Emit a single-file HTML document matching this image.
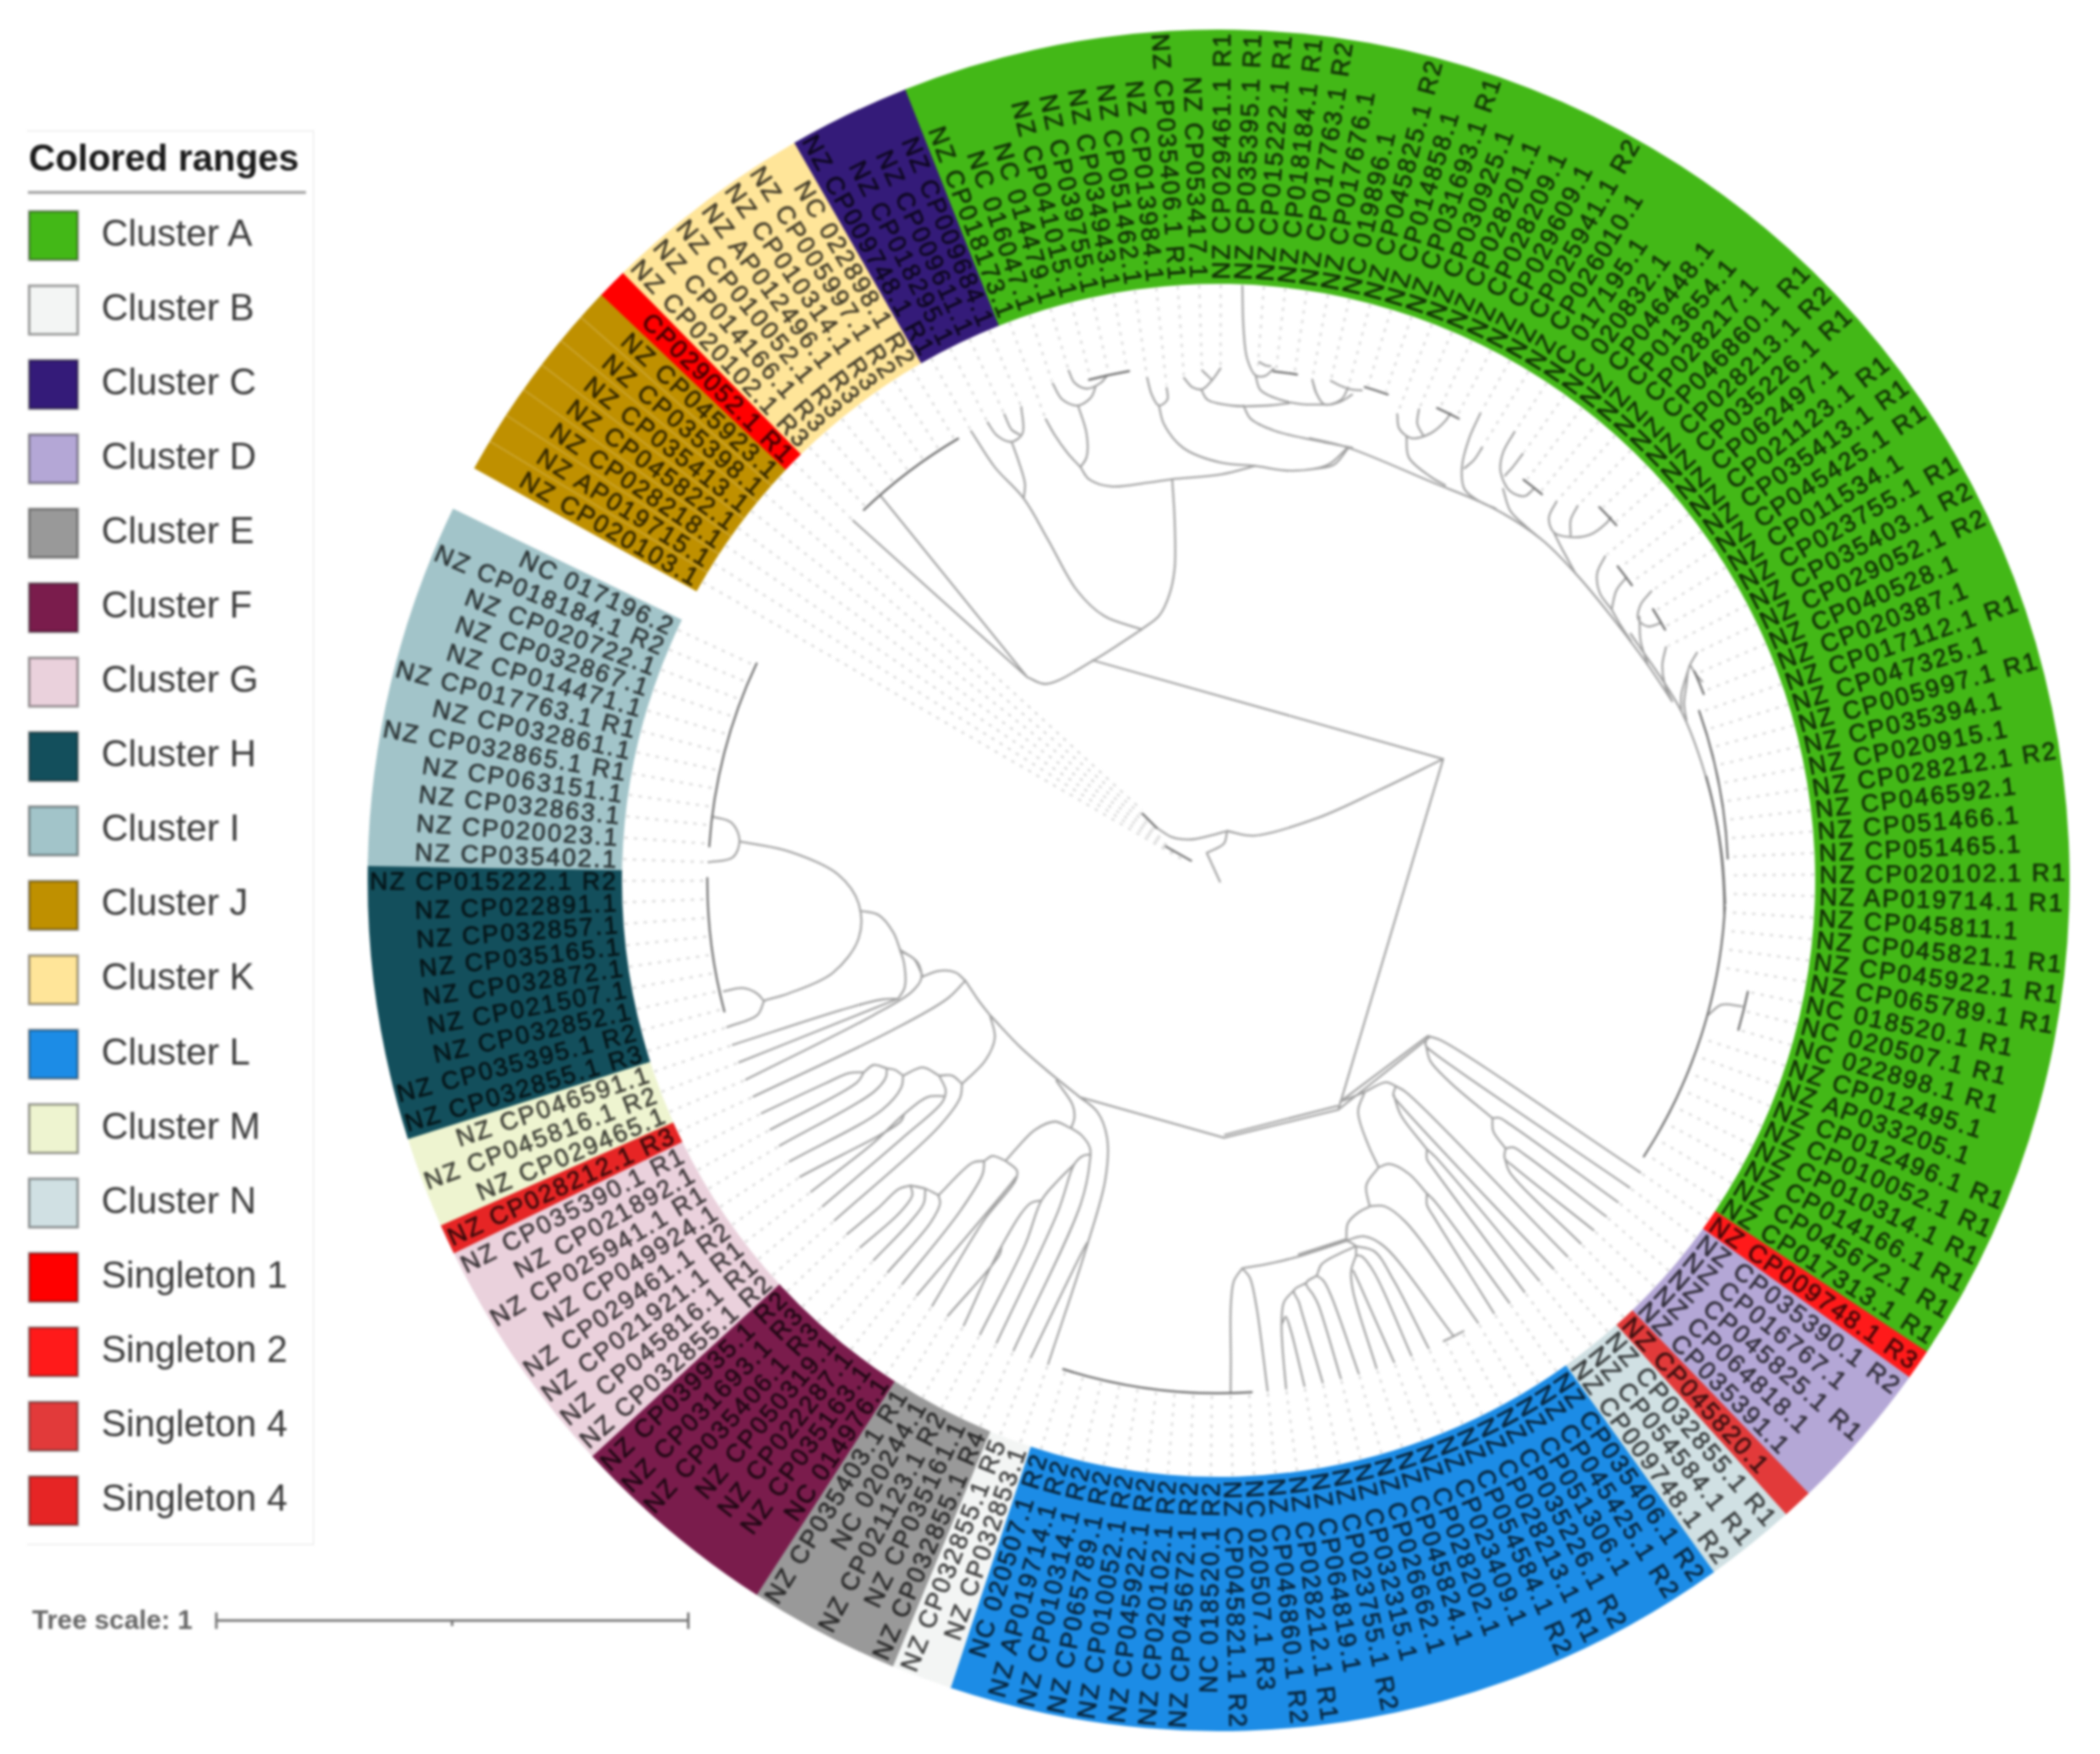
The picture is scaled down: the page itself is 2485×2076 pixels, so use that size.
<!DOCTYPE html>
<html lang="en"><head><meta charset="utf-8"><title>Colored ranges - circular tree</title>
<style>html,body{margin:0;padding:0;background:#fff}body{width:2485px;height:2076px;overflow:hidden}</style>
</head><body>
<svg width="2485" height="2076" viewBox="0 0 2485 2076" style="display:block;filter:blur(1.4px)">
<g id="ranges" shape-rendering="geometricPrecision">
<path d="M824.3 700.0L561.0 554.3A1007.0 1007.0 0 0 1 712.2 348.1L930.4 555.5A706.0 706.0 0 0 0 824.3 700.0Z" fill="#bf9000"/>
<path d="M929.8 556.1L711.5 348.9A1007.0 1007.0 0 0 1 737.8 322.2L948.3 537.3A706.0 706.0 0 0 0 929.8 556.1Z" fill="#ff0000"/>
<path d="M947.8 537.8L737.1 322.9A1007.0 1007.0 0 0 1 940.9 168.6L1090.7 429.6A706.0 706.0 0 0 0 947.8 537.8Z" fill="#ffe599"/>
<path d="M1090.0 430.0L939.9 169.1A1007.0 1007.0 0 0 1 1072.2 105.4L1182.7 385.3A706.0 706.0 0 0 0 1090.0 430.0Z" fill="#341b79"/>
<path d="M1182.0 385.6L1071.2 105.7A1007.0 1007.0 0 0 1 2279.7 1600.8L2029.3 1433.8A706.0 706.0 0 0 0 1182.0 385.6Z" fill="#43b817"/>
<path d="M2029.7 1433.2L2280.3 1599.9A1007.0 1007.0 0 0 1 2258.9 1630.8L2014.8 1454.8A706.0 706.0 0 0 0 2029.7 1433.2Z" fill="#ff1a1a"/>
<path d="M2015.2 1454.2L2259.6 1629.9A1007.0 1007.0 0 0 1 2139.6 1768.3L1931.1 1551.2A706.0 706.0 0 0 0 2015.2 1454.2Z" fill="#b4a7d6"/>
<path d="M1931.6 1550.7L2140.3 1767.5A1007.0 1007.0 0 0 1 2112.8 1793.0L1912.3 1568.6A706.0 706.0 0 0 0 1931.6 1550.7Z" fill="#e23a3a"/>
<path d="M1912.8 1568.1L2113.6 1792.3A1007.0 1007.0 0 0 1 2027.4 1861.4L1852.4 1616.4A706.0 706.0 0 0 0 1912.8 1568.1Z" fill="#d0e0e3"/>
<path d="M1853.0 1616.0L2028.3 1860.7A1007.0 1007.0 0 0 1 1124.1 1997.5L1219.1 1711.9A706.0 706.0 0 0 0 1853.0 1616.0Z" fill="#1c8ce6"/>
<path d="M1219.8 1712.1L1125.1 1997.8A1007.0 1007.0 0 0 1 1055.7 1972.0L1171.2 1694.0A706.0 706.0 0 0 0 1219.8 1712.1Z" fill="#f3f5f4"/>
<path d="M1171.9 1694.3L1056.7 1972.4A1007.0 1007.0 0 0 1 894.6 1887.2L1058.2 1634.6A706.0 706.0 0 0 0 1171.9 1694.3Z" fill="#999999"/>
<path d="M1058.8 1635.0L895.5 1887.8A1007.0 1007.0 0 0 1 700.1 1722.9L921.9 1519.4A706.0 706.0 0 0 0 1058.8 1635.0Z" fill="#7a1c4c"/>
<path d="M922.4 1519.9L700.8 1723.7A1007.0 1007.0 0 0 1 536.5 1482.6L807.2 1350.9A706.0 706.0 0 0 0 922.4 1519.9Z" fill="#ead1dc"/>
<path d="M807.5 1351.5L537.0 1483.5A1007.0 1007.0 0 0 1 521.1 1449.5L796.4 1327.7A706.0 706.0 0 0 0 807.5 1351.5Z" fill="#e62525"/>
<path d="M796.7 1328.4L521.6 1450.5A1007.0 1007.0 0 0 1 482.4 1347.2L769.2 1256.0A706.0 706.0 0 0 0 796.7 1328.4Z" fill="#eef4d0"/>
<path d="M769.4 1256.7L482.7 1348.2A1007.0 1007.0 0 0 1 435.2 1023.9L736.1 1029.3A706.0 706.0 0 0 0 769.4 1256.7Z" fill="#134f5c"/>
<path d="M736.1 1030.0L435.1 1025.0A1007.0 1007.0 0 0 1 536.1 602.1L806.9 733.6A706.0 706.0 0 0 0 736.1 1030.0Z" fill="#a2c4c9"/>
<path d="M837.3 677.6L579.5 522.2" stroke="#fff" stroke-opacity="0.22" stroke-width="1.6"/>
<path d="M850.9 655.9L598.9 491.3" stroke="#fff" stroke-opacity="0.22" stroke-width="1.6"/>
<path d="M865.3 634.8L619.4 461.2" stroke="#fff" stroke-opacity="0.22" stroke-width="1.6"/>
<path d="M880.4 614.2L641.0 431.8" stroke="#fff" stroke-opacity="0.22" stroke-width="1.6"/>
<path d="M896.3 594.1L663.6 403.2" stroke="#fff" stroke-opacity="0.22" stroke-width="1.6"/>
<path d="M912.8 574.7L687.2 375.4" stroke="#fff" stroke-opacity="0.22" stroke-width="1.6"/>
</g>
<g id="leaders" stroke="#dadada" stroke-width="2.6" stroke-dasharray="4 7.4" fill="none">
<path d="M831.7 689.1L1403.0 1019.5"/>
<path d="M844.9 667.2L1392.9 1011.2"/>
<path d="M858.8 645.9L1383.3 1002.1"/>
<path d="M873.5 625.0L1374.3 992.3"/>
<path d="M889.0 604.7L1365.9 981.8"/>
<path d="M905.2 585.0L1358.2 970.7"/>
<path d="M922.1 565.8L1351.3 958.9"/>
<path d="M939.7 547.3L1007.4 614.0"/>
<path d="M957.9 529.4L1023.2 598.5"/>
<path d="M976.8 512.3L1039.5 583.6"/>
<path d="M996.3 495.8L1056.4 569.4"/>
<path d="M1016.4 480.0L1073.7 555.7"/>
<path d="M1037.0 464.9L1091.6 542.7"/>
<path d="M1058.2 450.7L1109.9 530.3"/>
<path d="M1079.8 437.1L1128.6 518.6"/>
<path d="M1102.0 424.4L1147.8 507.6"/>
<path d="M1124.5 412.5L1167.3 497.3"/>
<path d="M1147.5 401.4L1187.2 487.8"/>
<path d="M1170.9 391.2L1207.5 478.9"/>
<path d="M1194.7 381.8L1236.4 493.2"/>
<path d="M1218.7 373.3L1244.7 451.1"/>
<path d="M1243.1 365.6L1263.7 435.7"/>
<path d="M1267.7 358.9L1290.0 446.1"/>
<path d="M1292.6 353.0L1311.6 441.0"/>
<path d="M1317.6 348.1L1333.5 436.6"/>
<path d="M1342.8 344.0L1357.0 444.0"/>
<path d="M1368.2 340.9L1380.3 456.2"/>
<path d="M1393.6 338.7L1400.9 444.4"/>
<path d="M1419.1 337.4L1422.3 435.3"/>
<path d="M1444.6 337.0L1444.3 433.0"/>
<path d="M1495.6 339.0L1488.5 432.8"/>
<path d="M1521.0 341.4L1510.3 436.8"/>
<path d="M1546.4 344.8L1532.1 439.7"/>
<path d="M1571.5 349.0L1553.3 446.3"/>
<path d="M1596.5 354.1L1575.5 447.8"/>
<path d="M1621.3 360.2L1596.2 455.9"/>
<path d="M1645.9 367.1L1619.0 456.2"/>
<path d="M1670.2 375.0L1640.1 463.0"/>
<path d="M1694.2 383.7L1654.5 487.3"/>
<path d="M1717.9 393.2L1680.3 481.6"/>
<path d="M1741.2 403.6L1704.7 481.5"/>
<path d="M1764.1 414.9L1724.8 491.4"/>
<path d="M1786.6 427.0L1753.4 486.3"/>
<path d="M1808.7 439.8L1755.6 527.0"/>
<path d="M1830.2 453.5L1793.9 508.6"/>
<path d="M1851.3 468.0L1803.7 534.7"/>
<path d="M1871.8 483.2L1807.2 567.2"/>
<path d="M1891.7 499.1L1824.1 580.7"/>
<path d="M1911.1 515.7L1843.9 591.1"/>
<path d="M1929.8 533.1L1869.0 596.6"/>
<path d="M1948.0 551.1L1897.0 600.5"/>
<path d="M1965.4 569.7L1912.7 617.3"/>
<path d="M1982.2 589.0L1901.7 656.4"/>
<path d="M1998.2 608.8L1918.5 670.9"/>
<path d="M2013.5 629.2L1931.7 688.4"/>
<path d="M2028.1 650.2L1956.6 698.0"/>
<path d="M2041.9 671.7L1960.2 722.1"/>
<path d="M2054.9 693.6L1971.5 741.1"/>
<path d="M2067.1 716.1L1974.0 764.6"/>
<path d="M2078.5 738.9L2010.8 771.2"/>
<path d="M2089.1 762.2L2009.2 796.7"/>
<path d="M2098.8 785.8L2017.7 817.4"/>
<path d="M2107.6 809.7L2014.2 842.3"/>
<path d="M2115.6 834.0L2021.0 863.2"/>
<path d="M2122.7 858.5L2027.1 884.3"/>
<path d="M2128.9 883.3L2032.4 905.6"/>
<path d="M2134.2 908.2L2037.0 927.0"/>
<path d="M2138.6 933.4L2040.8 948.6"/>
<path d="M2142.1 958.7L2043.8 970.4"/>
<path d="M2144.6 984.1L2046.0 992.2"/>
<path d="M2146.3 1009.6L2047.4 1014.1"/>
<path d="M2147.0 1035.1L2045.0 1036.1"/>
<path d="M2146.8 1060.6L2044.8 1057.9"/>
<path d="M2145.6 1086.1L2043.8 1079.7"/>
<path d="M2143.6 1111.6L2042.1 1101.5"/>
<path d="M2140.6 1136.9L2039.5 1123.2"/>
<path d="M2136.7 1162.1L2036.2 1144.8"/>
<path d="M2131.9 1187.2L2071.2 1174.5"/>
<path d="M2126.2 1212.1L2066.0 1197.1"/>
<path d="M2119.6 1236.8L2060.0 1219.6"/>
<path d="M2112.1 1261.2L2015.1 1229.5"/>
<path d="M2103.7 1285.3L2008.0 1250.1"/>
<path d="M2094.4 1309.1L2000.1 1270.4"/>
<path d="M2084.3 1332.5L1991.4 1290.5"/>
<path d="M2073.4 1355.6L1982.1 1310.2"/>
<path d="M2061.6 1378.3L1972.0 1329.6"/>
<path d="M2049.1 1400.5L1961.2 1348.6"/>
<path d="M2035.7 1422.2L1949.8 1367.2"/>
<path d="M2021.5 1443.5L1943.4 1389.4"/>
<path d="M2006.6 1464.2L1930.5 1407.3"/>
<path d="M1991.0 1484.4L1917.0 1424.7"/>
<path d="M1974.6 1503.9L1902.8 1441.7"/>
<path d="M1957.5 1522.9L1888.0 1458.1"/>
<path d="M1939.7 1541.3L1872.7 1474.0"/>
<path d="M1921.3 1559.0L1856.8 1489.3"/>
<path d="M1902.3 1576.0L1840.3 1504.0"/>
<path d="M1882.7 1592.3L1823.3 1518.1"/>
<path d="M1862.5 1607.9L1805.8 1531.6"/>
<path d="M1841.7 1622.7L1787.8 1544.5"/>
<path d="M1820.4 1636.8L1769.4 1556.7"/>
<path d="M1798.6 1650.1L1750.6 1568.2"/>
<path d="M1776.4 1662.7L1731.3 1579.0"/>
<path d="M1753.7 1674.4L1711.7 1589.2"/>
<path d="M1730.6 1685.2L1691.7 1598.6"/>
<path d="M1707.1 1695.3L1671.4 1607.2"/>
<path d="M1683.3 1704.4L1650.8 1615.2"/>
<path d="M1659.1 1712.7L1629.9 1622.3"/>
<path d="M1634.7 1720.2L1608.7 1628.8"/>
<path d="M1610.0 1726.7L1587.4 1634.4"/>
<path d="M1585.1 1732.3L1565.8 1639.3"/>
<path d="M1560.0 1737.1L1544.1 1643.4"/>
<path d="M1534.8 1740.9L1522.3 1646.7"/>
<path d="M1509.4 1743.8L1500.3 1649.2"/>
<path d="M1484.0 1745.7L1478.3 1650.9"/>
<path d="M1458.5 1746.8L1456.2 1651.8"/>
<path d="M1432.9 1746.9L1434.1 1651.9"/>
<path d="M1407.4 1746.2L1412.1 1651.3"/>
<path d="M1381.9 1744.4L1390.0 1649.8"/>
<path d="M1356.5 1741.8L1368.1 1647.5"/>
<path d="M1331.3 1738.2L1346.2 1644.4"/>
<path d="M1306.1 1733.8L1324.4 1640.6"/>
<path d="M1281.2 1728.4L1302.8 1635.9"/>
<path d="M1256.4 1722.1L1281.4 1630.5"/>
<path d="M1231.9 1715.0L1260.2 1624.3"/>
<path d="M1207.7 1706.9L1239.3 1617.3"/>
<path d="M1183.8 1698.0L1218.6 1609.6"/>
<path d="M1160.2 1688.2L1198.2 1601.1"/>
<path d="M1137.0 1677.6L1178.1 1591.9"/>
<path d="M1114.2 1666.1L1158.3 1582.0"/>
<path d="M1091.8 1653.9L1139.0 1571.4"/>
<path d="M1069.8 1640.8L1120.0 1560.1"/>
<path d="M1048.4 1626.9L1101.4 1548.1"/>
<path d="M1027.5 1612.3L1083.3 1535.4"/>
<path d="M1007.1 1596.9L1065.7 1522.1"/>
<path d="M987.3 1580.8L1048.6 1508.2"/>
<path d="M968.1 1564.0L1032.0 1493.6"/>
<path d="M949.5 1546.5L1015.9 1478.5"/>
<path d="M931.6 1528.3L1000.3 1462.8"/>
<path d="M914.3 1509.5L985.4 1446.5"/>
<path d="M897.7 1490.1L971.1 1429.7"/>
<path d="M881.8 1470.1L957.3 1412.4"/>
<path d="M866.7 1449.5L944.2 1394.6"/>
<path d="M852.3 1428.4L931.8 1376.3"/>
<path d="M838.7 1406.8L920.0 1357.7"/>
<path d="M825.9 1384.7L908.9 1338.5"/>
<path d="M813.9 1362.2L898.5 1319.1"/>
<path d="M802.7 1339.2L888.9 1299.2"/>
<path d="M792.4 1315.9L879.9 1279.0"/>
<path d="M782.9 1292.2L871.7 1258.5"/>
<path d="M774.3 1268.2L864.2 1237.7"/>
<path d="M766.5 1243.9L857.5 1216.7"/>
<path d="M759.6 1219.3L853.5 1194.9"/>
<path d="M753.7 1194.4L848.4 1173.5"/>
<path d="M748.6 1169.4L844.0 1151.9"/>
<path d="M744.5 1144.2L840.4 1130.2"/>
<path d="M741.2 1118.9L837.6 1108.3"/>
<path d="M738.9 1093.5L835.6 1086.4"/>
<path d="M737.5 1068.0L834.4 1064.4"/>
<path d="M737.0 1042.5L834.0 1042.4"/>
<path d="M737.4 1016.9L835.4 1020.4"/>
<path d="M738.8 991.4L836.6 998.5"/>
<path d="M741.1 966.0L838.5 976.6"/>
<path d="M744.3 940.7L841.3 954.8"/>
<path d="M748.4 915.5L844.9 933.1"/>
<path d="M753.5 890.5L849.2 911.5"/>
<path d="M759.4 865.6L854.3 890.1"/>
<path d="M766.3 841.0L860.2 869.0"/>
<path d="M774.0 816.7L866.8 848.0"/>
<path d="M782.6 792.7L874.2 827.3"/>
<path d="M792.0 768.9L882.4 806.9"/>
<path d="M802.3 745.6L891.3 786.8"/>
</g>
<g id="tree" fill="none" stroke-linecap="round" stroke-linejoin="round">
<path stroke="#a0a0a0" stroke-width="2.3" d="M1292.7 781.5L1707.8 898.3M1707.8 898.3L1583.7 1313.4M1583.7 1313.4L1448.4 1346.7M1582.9 1308.9L1449.5 1343.0M1448.4 1346.7L1277.9 1298.6M1707.8 898.3C1682.5 910.6 1657.1 923.5 1631.8 935.3C1607.1 946.9 1582.8 959.7 1557.7 968.7C1533.3 977.5 1503.2 988.1 1483.6 989.1C1470.9 989.7 1462.6 985.4 1452.1 983.5M1452.1 983.5C1450.8 988.4 1451.5 994.3 1448.4 998.3C1444.5 1003.4 1434.8 1005.7 1428.0 1009.5M1428.0 1009.5L1443.6 1043.6M1452.1 983.5C1445.3 985.4 1438.7 987.4 1431.7 989.1C1424.5 990.8 1416.9 993.2 1409.5 993.5C1402.1 993.8 1394.1 993.3 1387.2 990.9C1380.5 988.6 1374.9 983.5 1368.7 979.8M1583.7 1313.4L1691.1 1228.1M1041.4 586.0L1215.6 801.5M1009.5 616.1L1215.6 801.5M1215.6 801.5C1223.1 804.2 1229.0 810.0 1238.0 809.5C1252.7 808.6 1276.0 791.8 1294.6 781.2C1313.7 770.3 1332.2 757.1 1351.0 745.0M1350.9 744.9C1336.1 739.6 1319.5 737.0 1306.6 729.1C1294.0 721.5 1284.3 711.4 1274.3 698.6C1261.8 682.6 1251.0 657.5 1240.0 638.6C1230.1 621.5 1222.3 604.6 1211.4 590.0C1201.2 576.2 1187.5 566.1 1177.1 552.9C1166.8 539.5 1158.5 524.5 1149.2 510.3M1168.7 500.0C1172.4 505.3 1175.2 511.9 1180.0 515.7C1184.7 519.5 1192.0 523.5 1197.1 522.9C1201.9 522.2 1207.7 517.9 1210.0 512.9C1213.3 505.8 1209.1 492.1 1208.6 481.7M1188.5 490.5C1191.4 496.5 1193.5 504.5 1197.1 508.6C1199.8 511.5 1203.2 512.4 1206.3 514.3M1197.1 522.9C1200.0 531.0 1203.1 538.9 1205.7 547.1C1208.4 555.5 1212.1 565.1 1212.9 572.9C1213.4 579.1 1211.9 584.3 1211.4 590.0M1350.9 744.9C1357.7 739.6 1366.0 735.7 1371.4 729.1C1377.0 722.4 1380.4 713.7 1383.4 704.9C1386.8 695.1 1388.8 685.1 1390.0 672.9C1391.6 656.6 1390.5 634.0 1390.0 615.7C1389.5 598.9 1388.1 583.3 1387.1 567.1M1278.6 552.9C1273.3 547.1 1267.8 541.8 1262.9 535.7C1257.8 529.4 1252.9 522.5 1248.6 515.7C1244.4 509.2 1241.2 502.6 1237.5 496.1M1387.1 567.1C1377.1 568.6 1368.0 570.1 1357.1 571.4C1344.1 573.0 1326.6 577.1 1314.3 575.7C1304.5 574.6 1294.7 571.7 1288.6 567.1C1283.7 563.5 1281.9 557.6 1278.6 552.9M1278.6 552.9C1281.0 549.0 1284.3 546.4 1285.7 541.4C1287.8 534.3 1287.2 522.6 1285.7 512.9C1284.1 502.2 1279.0 491.0 1275.7 480.0M1245.7 453.9C1249.5 460.2 1251.9 468.5 1257.1 472.9C1262.1 477.0 1269.9 480.6 1275.7 480.0C1281.3 479.4 1288.0 474.1 1291.4 470.0C1294.3 466.6 1294.7 462.0 1296.3 458.0M1264.5 438.6C1266.8 443.3 1267.9 449.3 1271.4 452.9C1275.0 456.4 1280.7 459.8 1285.7 460.0C1291.1 460.2 1298.8 455.8 1302.9 452.9C1305.8 450.8 1307.0 448.1 1309.1 445.7M1387.1 567.1C1406.7 565.2 1428.1 564.5 1445.7 561.4C1460.4 558.9 1472.4 554.8 1485.7 551.4M1485.7 551.4C1500.0 553.3 1514.3 557.4 1528.6 557.1C1542.9 556.9 1560.0 555.4 1571.4 550.0C1581.0 545.5 1586.7 536.7 1594.3 530.0M1357.4 447.0C1359.3 453.7 1360.2 461.4 1362.9 467.1C1365.1 472.1 1368.1 479.4 1371.4 480.0C1374.4 480.5 1379.8 476.2 1381.4 472.9C1383.1 469.4 1380.9 463.8 1380.6 459.2M1371.4 480.0C1373.3 487.1 1373.5 494.2 1377.1 501.4C1381.9 510.8 1390.0 522.6 1400.0 530.0C1411.3 538.4 1428.3 543.6 1442.9 547.1C1456.9 550.6 1471.4 550.0 1485.7 551.4M1401.1 447.4C1404.5 451.1 1407.5 456.4 1411.4 458.6C1414.9 460.4 1419.3 461.6 1422.9 460.6C1427.0 459.4 1430.8 454.0 1434.3 450.0C1438.0 445.8 1440.9 440.7 1444.2 436.0M1422.4 438.3C1424.4 440.3 1426.6 442.3 1428.6 444.3C1430.5 446.2 1432.4 448.1 1434.3 450.0M1421.4 460.9C1423.8 464.9 1424.5 469.8 1428.6 472.9C1434.5 477.3 1446.6 478.7 1457.1 480.0C1469.9 481.6 1487.5 480.7 1500.0 480.0C1509.7 479.5 1517.1 478.1 1525.7 477.1M1470.1 338.6C1470.5 354.8 1470.4 372.1 1471.4 387.1C1472.4 400.4 1472.7 414.0 1475.7 424.3C1478.1 432.2 1481.2 441.4 1485.7 444.3C1488.9 446.4 1493.7 446.0 1497.1 444.9C1500.9 443.6 1503.8 439.1 1507.1 436.3M1490.0 428.6C1492.4 429.8 1494.8 431.5 1497.1 432.3C1499.3 433.0 1501.3 433.0 1503.4 433.4M1485.7 444.3C1487.6 450.0 1487.5 456.9 1491.4 461.4C1496.1 466.9 1506.0 470.0 1514.3 472.9C1523.1 475.9 1533.7 477.7 1542.9 478.6C1551.2 479.4 1559.0 478.6 1567.1 478.6M1471.4 480.0C1474.3 485.2 1475.3 491.2 1480.0 495.7C1486.3 501.8 1497.5 506.0 1508.6 510.0C1522.4 515.0 1541.4 518.0 1557.1 521.4C1571.8 524.6 1585.7 527.1 1600.0 530.0M1552.8 449.3C1554.2 454.3 1554.9 459.5 1557.1 464.3C1559.6 469.3 1562.5 476.6 1567.1 478.6C1571.9 480.6 1580.1 477.7 1585.7 475.7C1591.0 473.8 1595.2 470.0 1600.0 467.1M1552.8 449.3C1554.7 455.2 1555.9 462.0 1558.6 467.1C1560.9 471.6 1563.1 477.2 1567.1 478.6C1572.0 480.2 1582.4 476.6 1587.1 472.9C1591.4 469.6 1592.6 463.5 1595.4 458.8M1574.8 450.7C1578.0 452.4 1580.6 454.1 1584.3 455.7C1589.1 457.8 1596.4 460.5 1601.4 461.4C1605.2 462.1 1608.1 461.8 1611.4 462.0M1550.0 518.6C1565.2 522.4 1577.9 524.1 1595.7 530.0C1622.3 538.8 1662.7 557.4 1692.9 570.0C1719.3 581.0 1744.5 589.4 1767.1 601.4C1788.0 612.5 1807.5 625.0 1824.3 638.6C1839.5 650.9 1851.0 664.1 1864.3 678.6C1878.7 694.3 1893.1 712.2 1907.1 730.0C1921.7 748.4 1937.4 769.3 1950.0 787.1C1960.7 802.3 1969.0 815.7 1978.6 830.0M1550.0 555.7C1559.5 553.8 1570.8 554.5 1578.6 550.0C1585.9 545.7 1590.0 536.7 1595.7 530.0M1653.4 490.1C1654.2 495.8 1653.1 502.4 1655.7 507.1C1658.5 512.0 1664.3 517.3 1670.0 518.6C1676.4 520.0 1686.1 516.3 1692.9 512.9C1699.4 509.5 1705.9 503.1 1710.0 498.6C1712.9 495.4 1714.2 492.5 1716.3 489.4M1679.1 484.3C1678.5 490.0 1676.2 496.1 1677.1 501.4C1678.0 506.5 1681.9 511.0 1684.3 515.7M1664.3 517.1C1665.2 525.2 1663.3 534.1 1667.1 541.4C1671.7 550.1 1684.9 558.5 1692.9 564.3C1698.9 568.7 1704.3 571.0 1710.0 574.3M1751.9 488.9C1747.5 498.8 1742.2 508.2 1738.6 518.6C1734.8 529.4 1730.7 542.2 1730.0 552.9C1729.4 562.0 1729.2 571.8 1732.9 578.6C1736.2 584.9 1743.8 588.9 1750.0 592.9C1756.2 596.7 1763.3 599.0 1770.0 602.0M1754.0 529.5C1750.8 534.4 1748.0 540.1 1744.3 544.3C1740.9 548.2 1736.7 551.0 1732.9 554.3M1792.2 511.1C1787.7 519.3 1781.3 527.4 1778.6 535.7C1776.1 543.2 1774.4 551.1 1775.7 558.6C1777.1 566.4 1781.7 576.7 1787.1 581.4C1791.7 585.4 1799.5 588.0 1804.3 587.1C1808.3 586.4 1811.0 581.8 1814.3 579.1M1801.9 537.2C1798.0 542.4 1793.8 548.3 1790.0 552.9C1786.8 556.6 1783.9 559.5 1780.9 562.9M1778.6 578.6C1781.4 587.1 1782.5 596.7 1787.1 604.3C1791.9 612.0 1800.6 618.3 1807.1 624.3C1813.0 629.6 1818.6 633.8 1824.3 638.6M1841.9 593.4C1838.9 599.9 1833.2 606.5 1832.9 612.9C1832.5 618.7 1834.6 626.2 1838.6 630.0C1842.8 634.1 1851.6 635.2 1858.6 635.7C1865.9 636.3 1874.4 635.6 1881.4 632.9C1888.7 630.0 1897.2 622.6 1901.4 618.6C1903.8 616.3 1904.7 614.4 1906.3 612.3M1866.9 598.7C1864.1 604.4 1859.9 609.8 1858.6 615.7C1857.3 621.4 1858.6 627.5 1858.6 633.4M1838.6 630.0C1841.4 635.7 1843.7 640.6 1847.1 647.1C1851.8 656.1 1858.6 668.1 1864.3 678.6M1899.4 658.4C1896.3 665.1 1891.1 671.5 1890.0 678.6C1888.9 685.8 1890.1 694.4 1892.9 701.4C1895.7 708.7 1902.4 714.8 1907.1 721.4M1924.3 683.7C1920.5 688.7 1915.7 692.7 1912.9 698.6C1909.7 705.1 1909.0 713.8 1907.1 721.4M1907.1 721.4C1911.0 728.1 1914.6 735.1 1918.6 741.4C1922.3 747.4 1926.2 752.9 1930.0 758.6M1954.1 699.7C1949.9 705.0 1944.0 709.9 1941.4 715.7C1939.1 721.1 1936.8 728.5 1938.6 732.9C1940.2 736.8 1945.7 740.6 1950.0 741.4C1954.6 742.3 1960.5 738.6 1965.7 737.1M1940.0 730.0C1940.5 739.5 1939.8 749.1 1941.4 758.6C1943.1 768.2 1947.1 777.6 1950.0 787.1M1971.4 766.0C1970.0 773.0 1967.4 779.9 1967.1 787.1C1966.9 794.6 1968.0 802.8 1970.0 810.0C1971.9 817.0 1975.7 823.3 1978.6 830.0M2008.1 772.4C2004.9 778.3 2000.6 783.8 1998.6 790.0C1996.5 796.3 1996.6 803.1 1995.7 810.0C1994.7 817.4 1992.8 825.5 1992.9 832.9C1992.9 839.8 1994.8 846.2 1995.7 852.9M2000.0 787.1C2002.4 791.0 2004.6 795.2 2007.1 798.6C2009.4 801.6 2011.9 803.9 2014.3 806.6M1929.6 750.0C1949.6 780.6 1973.9 810.6 1989.5 841.8C2003.9 870.6 2013.4 900.8 2021.5 929.6C2029.0 956.6 2034.0 984.7 2037.4 1009.5C2040.3 1030.8 2040.4 1049.4 2041.8 1069.4M1989.5 841.8C1989.5 835.2 1988.5 829.0 1989.5 821.9C1990.7 813.2 1994.8 803.2 1997.5 793.9M2021.5 1201.1C2026.8 1197.1 2031.2 1190.9 2037.4 1189.1C2044.3 1187.1 2053.4 1190.5 2061.4 1191.1M1585.8 1304.0L1689.5 1226.1M1689.5 1226.1C1694.3 1227.7 1696.7 1227.2 1704.0 1230.8C1735.9 1246.0 1862.0 1335.4 1941.0 1387.7M1689.5 1226.1C1688.7 1229.8 1686.0 1233.9 1687.0 1237.2C1688.0 1240.6 1690.8 1241.5 1696.3 1245.9C1721.9 1266.5 1850.8 1352.3 1928.1 1405.5M1687.6 1238.1C1689.2 1244.0 1689.1 1249.6 1692.4 1255.6C1697.0 1263.7 1706.1 1271.6 1715.7 1280.8C1728.9 1293.5 1749.3 1309.2 1766.0 1323.4M1766.0 1323.4C1768.6 1323.3 1771.0 1322.3 1773.8 1323.0C1777.8 1324.0 1780.7 1326.8 1787.4 1331.2C1808.4 1345.0 1872.2 1392.3 1914.6 1422.9M1766.0 1324.4C1766.4 1329.2 1765.2 1333.9 1767.0 1338.9C1769.4 1345.5 1776.7 1352.5 1781.6 1359.3M1781.6 1359.3C1784.5 1358.8 1787.1 1357.3 1790.3 1357.9C1794.7 1358.8 1798.0 1362.3 1804.8 1367.0C1822.9 1379.5 1868.6 1415.5 1900.5 1439.7M1781.6 1359.3C1781.2 1363.1 1779.2 1367.4 1780.6 1370.9C1782.2 1375.0 1786.3 1376.5 1792.2 1381.6C1808.4 1395.3 1854.6 1431.2 1885.8 1456.1M1781.0 1371.9C1782.8 1377.0 1782.3 1380.8 1786.4 1387.4C1797.5 1405.1 1842.5 1443.7 1870.6 1471.9M1585.8 1304.0C1595.5 1300.2 1605.6 1296.4 1614.9 1292.4C1623.6 1288.6 1633.3 1280.9 1640.1 1280.8C1644.7 1280.7 1647.8 1284.0 1651.7 1285.6M1651.7 1285.6C1655.6 1287.9 1657.6 1287.9 1663.3 1292.4C1689.2 1312.5 1790.9 1422.2 1854.7 1487.1M1651.7 1285.6C1650.7 1289.2 1648.1 1292.8 1648.8 1296.3C1649.6 1300.3 1652.5 1301.9 1657.5 1307.9C1679.0 1333.6 1778.1 1437.1 1838.3 1501.8M1649.4 1296.3C1652.1 1304.0 1653.0 1311.1 1657.5 1319.5C1664.1 1331.7 1678.2 1346.7 1688.5 1360.2M1688.5 1360.2C1691.8 1363.1 1693.4 1364.0 1698.2 1369.0C1716.5 1387.9 1780.4 1466.9 1821.4 1515.8M1688.5 1360.2C1688.5 1364.1 1687.4 1368.1 1688.5 1371.9C1689.8 1375.9 1692.1 1377.5 1696.3 1383.5C1711.4 1405.0 1768.1 1480.7 1804.0 1529.2M1614.9 1292.4C1612.3 1300.2 1607.3 1306.9 1607.1 1315.7C1607.0 1326.9 1614.3 1342.8 1618.8 1354.4C1622.6 1364.4 1627.2 1372.5 1631.4 1381.6M1631.4 1381.6C1635.6 1380.3 1639.2 1377.3 1644.0 1377.7C1650.6 1378.2 1660.1 1383.9 1667.2 1389.3C1675.1 1395.2 1681.4 1404.8 1688.5 1412.6M1688.5 1412.6C1691.8 1415.8 1693.7 1416.9 1698.2 1422.2C1713.2 1439.7 1756.8 1502.1 1786.1 1542.0M1688.5 1412.6C1688.5 1417.1 1687.4 1421.8 1688.5 1426.1C1689.8 1430.8 1692.3 1433.0 1696.3 1439.7C1708.0 1459.3 1744.0 1516.0 1767.8 1554.2M1631.4 1381.6C1626.5 1388.7 1618.6 1395.1 1616.8 1402.9C1615.1 1410.6 1619.4 1419.7 1620.7 1428.1M1622.2 1427.5C1627.3 1427.5 1632.2 1425.7 1637.7 1427.5C1645.4 1430.0 1653.0 1435.9 1662.9 1445.9C1684.4 1467.6 1720.3 1525.7 1749.0 1565.6M1622.2 1427.5C1617.6 1429.7 1612.9 1431.2 1608.6 1434.3C1603.8 1437.7 1597.6 1442.3 1595.0 1447.8C1592.4 1453.5 1593.7 1461.4 1593.1 1468.2M1593.1 1468.2C1600.2 1466.6 1607.3 1462.5 1614.4 1463.3C1622.2 1464.3 1628.6 1467.5 1637.7 1475.0C1658.3 1491.9 1692.7 1546.0 1720.2 1581.5M1731.8 1575.4A607 607 0 0 1 1708.4 1587.4M1593.1 1468.2C1595.0 1469.1 1597.0 1470.0 1598.9 1471.1C1600.9 1472.2 1602.8 1473.7 1604.7 1475.0M1604.7 1475.0C1611.8 1476.9 1619.6 1476.1 1626.0 1480.8C1635.0 1487.2 1640.9 1501.4 1649.3 1515.7C1661.6 1536.6 1676.7 1569.1 1690.5 1595.8M1604.7 1475.0L1604.7 1485.6M1604.7 1485.6C1607.0 1486.1 1609.1 1485.5 1611.5 1487.0C1615.9 1489.7 1620.5 1496.7 1626.0 1506.0C1637.8 1525.6 1655.5 1571.6 1670.2 1604.5M1601.4 1504.0C1603.8 1509.2 1605.3 1512.2 1608.6 1519.5C1616.7 1537.5 1636.0 1581.4 1649.7 1612.3M1604.7 1485.6C1602.8 1491.8 1599.6 1497.5 1598.9 1504.0C1598.1 1511.3 1598.9 1517.1 1600.9 1527.3C1604.8 1548.0 1619.6 1588.8 1628.9 1619.5M1604.7 1475.0C1598.9 1477.5 1593.4 1479.6 1587.3 1482.7C1580.0 1486.4 1568.8 1490.8 1564.0 1496.3C1560.5 1500.3 1560.2 1505.3 1558.2 1509.8M1558.2 1509.8C1560.8 1511.8 1563.6 1512.8 1566.0 1515.7C1569.6 1520.0 1571.8 1526.0 1575.7 1535.0C1583.7 1554.0 1597.2 1595.6 1607.9 1625.9M1558.2 1509.8C1554.0 1512.8 1546.4 1514.8 1545.6 1518.6C1544.8 1522.5 1551.8 1528.5 1554.3 1533.1C1556.6 1537.1 1557.8 1538.9 1560.2 1544.7C1566.3 1560.1 1577.8 1602.6 1586.7 1631.5M1545.6 1518.6C1540.8 1521.5 1532.3 1523.4 1531.1 1527.3C1529.9 1530.9 1535.3 1536.3 1536.9 1540.9C1538.5 1545.3 1538.9 1548.0 1540.8 1554.4C1545.4 1570.2 1557.1 1609.0 1565.2 1636.4M1531.1 1527.3C1527.2 1531.8 1521.9 1535.3 1519.5 1540.9C1516.6 1547.2 1516.9 1555.9 1516.6 1564.1C1516.1 1573.2 1516.9 1582.2 1517.5 1593.2C1518.4 1607.7 1520.4 1626.9 1521.9 1643.7M1517.5 1566.0C1518.8 1563.5 1520.1 1558.2 1521.4 1558.3C1523.2 1558.4 1525.0 1566.7 1527.2 1573.8C1531.7 1588.2 1538.1 1618.2 1543.6 1640.4M1593.1 1468.8C1573.7 1475.0 1552.2 1482.7 1535.0 1487.6C1521.4 1491.4 1509.6 1493.9 1498.1 1496.3C1488.2 1498.3 1479.4 1499.5 1470.0 1501.1M1592.1 1466.8L1536.9 1484.7M1470.0 1501.1C1472.9 1504.7 1476.3 1506.9 1478.8 1511.8C1482.5 1519.5 1483.9 1530.7 1486.5 1544.7C1491.0 1569.2 1495.5 1612.4 1500.0 1646.2M1470.0 1501.1C1466.8 1506.0 1462.6 1509.7 1460.3 1515.7C1457.4 1523.4 1457.3 1533.0 1456.5 1544.7C1455.3 1562.6 1456.6 1593.5 1456.5 1612.6C1456.4 1626.5 1456.3 1636.7 1456.2 1648.8M1275.2 1296.5C1282.9 1303.0 1292.7 1307.8 1298.4 1315.9C1304.5 1324.4 1308.2 1335.2 1310.1 1346.9C1312.4 1361.1 1310.9 1377.5 1308.1 1395.3C1304.6 1418.3 1295.7 1443.3 1286.8 1472.9C1274.7 1513.1 1255.8 1567.3 1240.3 1614.5M1286.4 1470.9C1284.9 1473.5 1284.2 1474.5 1282.0 1478.7C1273.1 1495.5 1240.4 1564.1 1219.7 1606.8M1250.0 1279.1C1256.5 1288.8 1266.2 1299.6 1269.4 1308.1C1271.5 1313.8 1271.8 1318.9 1271.3 1323.6C1270.9 1327.8 1268.7 1331.4 1267.4 1335.3M1267.4 1335.3C1271.3 1337.9 1275.6 1339.6 1279.1 1343.0C1283.1 1347.0 1288.0 1353.1 1289.7 1358.5C1291.3 1363.5 1290.4 1367.4 1289.7 1374.0C1288.5 1386.1 1286.1 1403.1 1279.1 1424.4C1265.5 1465.5 1225.9 1540.4 1199.4 1598.4M1289.7 1366.3C1286.8 1366.9 1283.8 1366.7 1281.0 1368.2C1277.6 1370.1 1274.5 1372.8 1271.3 1377.9C1264.7 1388.5 1261.3 1411.0 1251.9 1434.1C1236.1 1473.3 1203.6 1537.5 1179.4 1589.2M1271.3 1377.9C1264.9 1384.4 1258.2 1390.4 1251.9 1397.3C1245.3 1404.5 1238.3 1410.6 1232.6 1420.5C1224.8 1434.0 1222.0 1452.6 1213.2 1472.9C1200.3 1502.4 1177.5 1543.9 1159.7 1579.4M1232.6 1420.5C1228.0 1421.8 1223.8 1420.9 1219.0 1424.4C1208.8 1431.9 1195.7 1456.4 1184.1 1476.7C1169.4 1502.7 1155.0 1538.1 1140.5 1568.8M1185.1 1475.8C1184.4 1478.7 1185.1 1480.5 1183.1 1484.5C1176.7 1497.5 1142.1 1533.2 1121.6 1557.5M1267.4 1335.3C1261.0 1332.7 1254.8 1327.5 1248.1 1327.5C1240.7 1327.6 1232.0 1332.4 1224.8 1337.2C1217.0 1342.4 1209.7 1351.9 1203.5 1358.5C1198.4 1364.0 1194.4 1368.9 1189.9 1374.0M1189.9 1374.0C1194.4 1377.9 1201.9 1381.3 1203.5 1385.7C1204.8 1389.2 1203.7 1392.5 1201.6 1397.3C1196.8 1408.1 1177.9 1424.8 1164.7 1443.8C1146.0 1470.7 1123.7 1511.7 1103.1 1545.6M1201.9 1393.4C1200.5 1395.3 1200.1 1396.1 1197.7 1399.2C1185.5 1414.7 1122.6 1488.4 1085.1 1533.0M1189.9 1374.0C1184.8 1372.1 1178.9 1367.8 1174.4 1368.2C1170.7 1368.6 1168.0 1372.1 1164.7 1374.0M1164.7 1374.0C1164.1 1379.2 1165.0 1383.3 1162.8 1389.5C1158.8 1400.9 1147.4 1417.3 1135.7 1434.1C1118.6 1458.5 1090.3 1491.2 1067.6 1519.8M1164.7 1374.0C1160.2 1374.7 1156.4 1373.4 1151.2 1376.0C1140.5 1381.1 1124.0 1401.8 1110.5 1414.7M1110.5 1414.7C1111.1 1418.0 1112.9 1420.6 1112.4 1424.4C1111.6 1430.6 1106.8 1438.6 1100.8 1447.7C1090.4 1463.2 1067.3 1486.5 1050.5 1505.9M1110.5 1414.7C1105.3 1412.1 1100.4 1408.9 1095.0 1407.0C1089.4 1405.0 1083.3 1404.4 1077.5 1403.1M1095.0 1407.0C1094.3 1412.8 1095.3 1418.6 1093.0 1424.4C1090.3 1431.5 1084.3 1437.6 1077.5 1445.7C1067.0 1458.4 1048.5 1476.2 1034.0 1491.4M1077.5 1403.1C1078.2 1407.0 1080.5 1410.5 1079.5 1414.7C1078.0 1421.0 1071.1 1428.3 1064.0 1436.0C1053.1 1447.9 1033.3 1462.9 1018.0 1476.3M1077.5 1403.1C1073.0 1404.4 1068.8 1404.2 1064.0 1407.0C1056.4 1411.2 1048.0 1422.1 1038.8 1430.2C1027.9 1439.8 1014.6 1450.5 1002.5 1460.7M1171.4 1201.4C1173.3 1210.4 1178.1 1219.6 1177.2 1228.5C1176.3 1237.7 1171.4 1247.1 1165.6 1255.7C1159.0 1265.4 1147.5 1273.7 1138.4 1282.8M1138.4 1282.8C1137.8 1288.0 1138.8 1292.4 1136.5 1298.3C1132.7 1308.0 1124.0 1319.1 1111.3 1333.2C1086.5 1360.8 1028.9 1407.4 987.6 1444.5M1138.4 1282.8C1134.6 1279.6 1131.3 1274.7 1126.8 1273.1C1122.3 1271.5 1116.5 1273.1 1111.3 1273.1M1111.3 1273.1C1113.9 1278.9 1118.7 1285.0 1119.1 1290.5C1119.4 1295.3 1118.4 1299.0 1115.2 1304.1C1108.7 1314.5 1089.9 1327.6 1072.6 1342.9C1046.5 1365.9 1006.4 1399.5 973.4 1427.8M1116.2 1297.3C1110.0 1297.6 1104.2 1296.0 1097.8 1298.3C1088.7 1301.5 1078.6 1311.4 1068.7 1319.6C1057.3 1329.1 1047.9 1340.4 1033.8 1352.6C1014.0 1369.6 984.4 1391.2 959.7 1410.6M1069.7 1319.6C1068.4 1322.2 1068.8 1324.2 1065.8 1327.4C1053.7 1339.9 986.4 1371.0 946.7 1392.9M1111.3 1273.1C1104.9 1269.9 1098.7 1263.6 1091.9 1263.4C1084.6 1263.2 1076.4 1269.9 1068.7 1273.1M1068.7 1273.1C1068.0 1277.6 1069.0 1281.7 1066.7 1286.7C1063.1 1294.6 1055.3 1304.1 1043.5 1313.8C1021.4 1331.9 970.7 1354.4 934.3 1374.7M1068.7 1273.1C1065.5 1270.8 1062.4 1267.8 1059.0 1266.3C1055.9 1265.0 1052.5 1265.0 1049.3 1264.4M1049.3 1264.4C1049.0 1267.9 1049.9 1271.3 1048.3 1275.0C1046.1 1280.5 1041.8 1285.7 1033.8 1292.5C1014.7 1308.5 959.7 1334.9 922.6 1356.1M1049.3 1264.4C1044.1 1263.1 1038.4 1259.6 1033.8 1260.5C1029.4 1261.4 1026.0 1266.3 1022.2 1269.2M1022.2 1269.2C1019.6 1273.1 1019.4 1276.3 1014.4 1280.9C1000.1 1294.0 945.8 1318.3 911.6 1337.1M1022.2 1268.8C1016.4 1269.3 1011.1 1268.6 1004.7 1270.2C996.1 1272.3 987.5 1277.4 975.7 1282.8C956.5 1291.4 926.0 1306.1 901.2 1317.7M1171.4 1201.4C1166.9 1195.6 1162.4 1190.3 1157.8 1184.0C1152.7 1176.8 1147.5 1168.4 1142.3 1160.7M1171.4 1201.4C1183.7 1214.3 1196.1 1228.5 1208.2 1240.2C1219.0 1250.5 1229.0 1258.8 1240.0 1268.0C1251.3 1277.6 1263.5 1287.0 1275.2 1296.5M1142.3 1160.7C1135.2 1167.8 1130.8 1174.6 1121.0 1182.0C1105.3 1194.0 1080.9 1206.2 1053.2 1220.8C1011.1 1242.8 945.5 1272.2 891.6 1297.9M1142.3 1160.7C1138.4 1157.5 1135.4 1153.0 1130.7 1151.0C1125.3 1148.8 1117.7 1148.3 1111.3 1149.1C1104.8 1149.8 1098.4 1153.6 1091.9 1155.9M1064.8 1123.9C1071.9 1129.0 1082.0 1133.0 1086.1 1139.4C1089.7 1144.9 1091.3 1152.9 1090.0 1158.8C1088.7 1164.5 1084.2 1169.0 1078.4 1174.3C1068.8 1183.0 1053.3 1190.5 1033.8 1201.4C998.6 1221.0 933.1 1252.4 882.7 1277.8M1064.8 1123.9C1066.4 1129.0 1068.6 1133.3 1069.7 1139.4C1071.0 1147.5 1072.5 1160.8 1070.6 1168.4C1069.2 1174.1 1065.5 1177.5 1062.9 1182.0M1062.9 1182.0C1053.2 1185.9 1047.4 1188.2 1033.8 1193.6C1002.0 1206.4 927.6 1236.2 874.5 1257.4M1062.9 1182.0C1056.4 1182.3 1051.3 1181.8 1043.5 1183.0C1030.9 1184.9 1014.9 1189.8 995.0 1195.6C962.4 1205.1 909.7 1223.0 867.1 1236.7M904.0 1184.9C901.4 1190.4 901.1 1196.8 896.2 1201.4C889.1 1208.1 872.3 1211.0 860.4 1215.8M856.5 1173.3C863.9 1172.0 871.9 1168.7 878.8 1169.4C885.0 1170.0 891.8 1173.1 896.2 1176.2C899.7 1178.6 901.4 1182.0 904.0 1184.9M842.7 966.4C850.3 968.9 860.1 968.9 865.5 973.7C870.8 978.3 874.9 987.3 875.1 994.2C875.3 1001.0 872.5 1010.3 867.2 1014.7C861.2 1019.9 848.0 1018.6 838.4 1020.5M875.1 995.9C894.7 999.9 914.8 1001.5 934.0 1007.9C953.8 1014.5 978.0 1023.4 992.1 1035.3C1003.5 1044.9 1012.1 1056.9 1016.1 1069.5C1020.0 1082.0 1020.4 1097.5 1016.1 1110.5C1011.2 1125.1 998.5 1140.9 985.3 1151.6C971.4 1162.8 948.8 1169.9 934.0 1175.5C923.1 1179.7 914.6 1181.2 904.9 1184.1M1017.8 1078.0C1025.2 1079.7 1033.6 1079.2 1040.0 1083.2C1046.9 1087.4 1052.8 1096.3 1057.1 1103.7C1061.2 1110.6 1062.8 1118.5 1065.7 1125.9M1065.7 1125.9C1070.8 1128.8 1076.9 1130.1 1081.1 1134.5C1086.0 1139.5 1088.4 1148.6 1092.0 1155.7"/>
<path stroke="#6e6e6e" stroke-width="2.4" d="M1368.7 979.8L1352.0 963.1M1379.8 1002.0L1409.5 1018.7M1022.2 603.6A607 607 0 0 1 1133.8 519.1M1288.6 449.5A612 612 0 0 1 1336.1 439.2M1506.8 439.5A606 606 0 0 1 1534.8 443.2M1615.1 458.1A609 609 0 0 1 1642.2 466.8M1700.5 482.9A616 616 0 0 1 1726.3 495.5M1802.9 567.7A596 596 0 0 1 1824.6 585.0M1892.5 600.2A631 631 0 0 1 1912.7 621.7M1914.2 670.2A601 601 0 0 1 1931.1 692.7M1956.0 721.0A606 606 0 0 1 1970.4 745.3M2005.2 794.9A615 615 0 0 1 2016.1 821.5M2041.2 1073.4C2040.4 1083.8 2039.8 1094.3 2038.7 1104.7C2037.6 1115.1 2036.3 1125.5 2034.6 1135.9C2033.0 1146.2 2031.1 1156.5 2028.9 1166.7C2026.7 1177.0 2024.3 1187.2 2021.6 1197.3C2018.8 1207.4 2015.9 1217.5 2012.6 1227.4C2009.4 1237.4 2005.9 1247.2 2002.1 1257.0C1998.4 1266.8 1994.4 1276.5 1990.1 1286.0C1985.9 1295.6 1981.4 1305.1 1976.6 1314.4C1971.9 1323.7 1966.8 1332.9 1961.6 1342.0C1956.4 1351.1 1945.2 1368.8 1945.2 1368.8C1945.2 1368.8 1945.6 1368.2 1945.8 1367.9M2019.1 919.3C2020.8 926.0 2022.7 932.6 2024.3 939.3C2025.9 946.0 2027.3 952.8 2028.7 959.5C2030.1 966.3 2031.3 973.1 2032.5 979.9C2033.6 986.8 2034.6 993.6 2035.5 1000.5C2036.4 1007.4 2037.2 1014.3 2037.8 1021.2C2038.5 1028.1 2039.0 1035.1 2039.4 1042.0C2039.9 1049.0 2040.1 1055.9 2040.3 1062.9C2040.5 1069.9 2040.4 1076.9 2040.5 1083.8M2010.6 841.3A603 603 0 0 1 2044.5 1016.4M2068.3 1173.8A640 640 0 0 1 2057.1 1218.8M1481.3 1647.7A607 607 0 0 1 1258.1 1620.5M857.2 1197.2A605 605 0 0 1 837.0 1039.2M839.3 1001.8A604 604 0 0 1 895.3 785.2"/>
</g>
<g id="labels" font-family="Liberation Sans, Arial, sans-serif" font-size="29.6" fill="#000" fill-opacity="0.7" stroke="#000" stroke-opacity="0.7" stroke-width="0.7" letter-spacing="2.2">
<text transform="translate(1442.0 1042.0) rotate(30.038)" x="-711.0" y="10.4" text-anchor="end">NZ CP020103.1</text>
<text transform="translate(1442.0 1042.0) rotate(32.112)" x="-711.0" y="10.4" text-anchor="end">NZ AP019715.1</text>
<text transform="translate(1442.0 1042.0) rotate(34.188)" x="-711.0" y="10.4" text-anchor="end">NZ CP028218.1</text>
<text transform="translate(1442.0 1042.0) rotate(36.263)" x="-711.0" y="10.4" text-anchor="end">NZ CP045822.1</text>
<text transform="translate(1442.0 1042.0) rotate(38.337)" x="-711.0" y="10.4" text-anchor="end">NZ CP035413.1</text>
<text transform="translate(1442.0 1042.0) rotate(40.412)" x="-711.0" y="10.4" text-anchor="end">NZ CP035398.1</text>
<text transform="translate(1442.0 1042.0) rotate(42.487)" x="-711.0" y="10.4" text-anchor="end">NZ CP045923.1</text>
<text transform="translate(1442.0 1042.0) rotate(44.562)" x="-711.0" y="10.4" text-anchor="end">CP029052.1 R1</text>
<text transform="translate(1442.0 1042.0) rotate(46.638)" x="-711.0" y="10.4" text-anchor="end">NZ CP020102.1 R3</text>
<text transform="translate(1442.0 1042.0) rotate(48.712)" x="-711.0" y="10.4" text-anchor="end">NZ CP014166.1 R3</text>
<text transform="translate(1442.0 1042.0) rotate(50.787)" x="-711.0" y="10.4" text-anchor="end">NZ CP010052.1 R3</text>
<text transform="translate(1442.0 1042.0) rotate(52.862)" x="-711.0" y="10.4" text-anchor="end">NZ AP012496.1 R3</text>
<text transform="translate(1442.0 1042.0) rotate(54.938)" x="-711.0" y="10.4" text-anchor="end">NZ CP010314.1 R3</text>
<text transform="translate(1442.0 1042.0) rotate(57.012)" x="-711.0" y="10.4" text-anchor="end">NZ CP005997.1 R2</text>
<text transform="translate(1442.0 1042.0) rotate(59.087)" x="-711.0" y="10.4" text-anchor="end">NC 022898.1 R2</text>
<text transform="translate(1442.0 1042.0) rotate(61.162)" x="-711.0" y="10.4" text-anchor="end">NZ CP009748.1 R1</text>
<text transform="translate(1442.0 1042.0) rotate(63.237)" x="-711.0" y="10.4" text-anchor="end">NZ CP018295.1</text>
<text transform="translate(1442.0 1042.0) rotate(65.312)" x="-711.0" y="10.4" text-anchor="end">NZ CP009611.1</text>
<text transform="translate(1442.0 1042.0) rotate(67.387)" x="-711.0" y="10.4" text-anchor="end">NZ CP009684.1</text>
<text transform="translate(1442.0 1042.0) rotate(69.462)" x="-711.0" y="10.4" text-anchor="end">NZ CP018173.1</text>
<text transform="translate(1442.0 1042.0) rotate(71.537)" x="-711.0" y="10.4" text-anchor="end">NC 016047.1</text>
<text transform="translate(1442.0 1042.0) rotate(73.612)" x="-711.0" y="10.4" text-anchor="end">NC 014479.1</text>
<text transform="translate(1442.0 1042.0) rotate(75.688)" x="-711.0" y="10.4" text-anchor="end">NZ CP041015.1</text>
<text transform="translate(1442.0 1042.0) rotate(77.762)" x="-711.0" y="10.4" text-anchor="end">NZ CP039755.1</text>
<text transform="translate(1442.0 1042.0) rotate(79.837)" x="-711.0" y="10.4" text-anchor="end">NZ CP034943.1</text>
<text transform="translate(1442.0 1042.0) rotate(81.912)" x="-711.0" y="10.4" text-anchor="end">NZ CP051462.1</text>
<text transform="translate(1442.0 1042.0) rotate(83.987)" x="-711.0" y="10.4" text-anchor="end">NZ CP013984.1</text>
<text transform="translate(1442.0 1042.0) rotate(86.062)" x="-711.0" y="10.4" text-anchor="end">NZ CP035406.1 R1</text>
<text transform="translate(1442.0 1042.0) rotate(88.137)" x="-711.0" y="10.4" text-anchor="end">NZ CP053417.1</text>
<text transform="translate(1442.0 1042.0) rotate(-89.788)" x="711.0" y="10.4">NZ CP029461.1 R1</text>
<text transform="translate(1442.0 1042.0) rotate(-87.713)" x="711.0" y="10.4">NZ CP035395.1 R1</text>
<text transform="translate(1442.0 1042.0) rotate(-85.638)" x="711.0" y="10.4">NZ CP015222.1 R1</text>
<text transform="translate(1442.0 1042.0) rotate(-83.563)" x="711.0" y="10.4">NZ CP018184.1 R1</text>
<text transform="translate(1442.0 1042.0) rotate(-81.488)" x="711.0" y="10.4">NZ CP017763.1 R2</text>
<text transform="translate(1442.0 1042.0) rotate(-79.413)" x="711.0" y="10.4">NZ CP017676.1</text>
<text transform="translate(1442.0 1042.0) rotate(-77.338)" x="711.0" y="10.4">NC 019896.1</text>
<text transform="translate(1442.0 1042.0) rotate(-75.263)" x="711.0" y="10.4">NZ CP045825.1 R2</text>
<text transform="translate(1442.0 1042.0) rotate(-73.188)" x="711.0" y="10.4">NZ CP014858.1</text>
<text transform="translate(1442.0 1042.0) rotate(-71.113)" x="711.0" y="10.4">NZ CP031693.1 R1</text>
<text transform="translate(1442.0 1042.0) rotate(-69.038)" x="711.0" y="10.4">NZ CP030925.1</text>
<text transform="translate(1442.0 1042.0) rotate(-66.963)" x="711.0" y="10.4">NZ CP028201.1</text>
<text transform="translate(1442.0 1042.0) rotate(-64.888)" x="711.0" y="10.4">NZ CP028209.1</text>
<text transform="translate(1442.0 1042.0) rotate(-62.813)" x="711.0" y="10.4">NZ CP029609.1</text>
<text transform="translate(1442.0 1042.0) rotate(-60.738)" x="711.0" y="10.4">NZ CP025941.1 R2</text>
<text transform="translate(1442.0 1042.0) rotate(-58.663)" x="711.0" y="10.4">NZ CP026010.1</text>
<text transform="translate(1442.0 1042.0) rotate(-56.588)" x="711.0" y="10.4">NC 017195.1</text>
<text transform="translate(1442.0 1042.0) rotate(-54.513)" x="711.0" y="10.4">NC 020832.1</text>
<text transform="translate(1442.0 1042.0) rotate(-52.438)" x="711.0" y="10.4">NZ CP046448.1</text>
<text transform="translate(1442.0 1042.0) rotate(-50.363)" x="711.0" y="10.4">NZ CP013654.1</text>
<text transform="translate(1442.0 1042.0) rotate(-48.288)" x="711.0" y="10.4">NZ CP028217.1</text>
<text transform="translate(1442.0 1042.0) rotate(-46.213)" x="711.0" y="10.4">NZ CP046860.1 R1</text>
<text transform="translate(1442.0 1042.0) rotate(-44.138)" x="711.0" y="10.4">NZ CP028213.1 R2</text>
<text transform="translate(1442.0 1042.0) rotate(-42.062)" x="711.0" y="10.4">NZ CP035226.1 R1</text>
<text transform="translate(1442.0 1042.0) rotate(-39.988)" x="711.0" y="10.4">NZ CP062497.1</text>
<text transform="translate(1442.0 1042.0) rotate(-37.913)" x="711.0" y="10.4">NZ CP021123.1 R1</text>
<text transform="translate(1442.0 1042.0) rotate(-35.838)" x="711.0" y="10.4">NZ CP035413.1 R1</text>
<text transform="translate(1442.0 1042.0) rotate(-33.763)" x="711.0" y="10.4">NZ CP045425.1 R1</text>
<text transform="translate(1442.0 1042.0) rotate(-31.688)" x="711.0" y="10.4">NZ CP011534.1</text>
<text transform="translate(1442.0 1042.0) rotate(-29.613)" x="711.0" y="10.4">NZ CP023755.1 R1</text>
<text transform="translate(1442.0 1042.0) rotate(-27.538)" x="711.0" y="10.4">NZ CP035403.1 R2</text>
<text transform="translate(1442.0 1042.0) rotate(-25.463)" x="711.0" y="10.4">NZ CP029052.1 R2</text>
<text transform="translate(1442.0 1042.0) rotate(-23.388)" x="711.0" y="10.4">NZ CP040528.1</text>
<text transform="translate(1442.0 1042.0) rotate(-21.313)" x="711.0" y="10.4">NZ CP020387.1</text>
<text transform="translate(1442.0 1042.0) rotate(-19.238)" x="711.0" y="10.4">NZ CP017112.1 R1</text>
<text transform="translate(1442.0 1042.0) rotate(-17.163)" x="711.0" y="10.4">NZ CP047325.1</text>
<text transform="translate(1442.0 1042.0) rotate(-15.088)" x="711.0" y="10.4">NZ CP005997.1 R1</text>
<text transform="translate(1442.0 1042.0) rotate(-13.013)" x="711.0" y="10.4">NZ CP035394.1</text>
<text transform="translate(1442.0 1042.0) rotate(-10.938)" x="711.0" y="10.4">NZ CP020915.1</text>
<text transform="translate(1442.0 1042.0) rotate(-8.863)" x="711.0" y="10.4">NZ CP028212.1 R2</text>
<text transform="translate(1442.0 1042.0) rotate(-6.788)" x="711.0" y="10.4">NZ CP046592.1</text>
<text transform="translate(1442.0 1042.0) rotate(-4.713)" x="711.0" y="10.4">NZ CP051466.1</text>
<text transform="translate(1442.0 1042.0) rotate(-2.638)" x="711.0" y="10.4">NZ CP051465.1</text>
<text transform="translate(1442.0 1042.0) rotate(-0.563)" x="711.0" y="10.4">NZ CP020102.1 R1</text>
<text transform="translate(1442.0 1042.0) rotate(1.512)" x="711.0" y="10.4">NZ AP019714.1 R1</text>
<text transform="translate(1442.0 1042.0) rotate(3.587)" x="711.0" y="10.4">NZ CP045811.1</text>
<text transform="translate(1442.0 1042.0) rotate(5.662)" x="711.0" y="10.4">NZ CP045821.1 R1</text>
<text transform="translate(1442.0 1042.0) rotate(7.737)" x="711.0" y="10.4">NZ CP045922.1 R1</text>
<text transform="translate(1442.0 1042.0) rotate(9.812)" x="711.0" y="10.4">NZ CP065789.1 R1</text>
<text transform="translate(1442.0 1042.0) rotate(11.887)" x="711.0" y="10.4">NC 018520.1 R1</text>
<text transform="translate(1442.0 1042.0) rotate(13.962)" x="711.0" y="10.4">NC 020507.1 R1</text>
<text transform="translate(1442.0 1042.0) rotate(16.037)" x="711.0" y="10.4">NC 022898.1 R1</text>
<text transform="translate(1442.0 1042.0) rotate(18.112)" x="711.0" y="10.4">NZ CP012495.1</text>
<text transform="translate(1442.0 1042.0) rotate(20.187)" x="711.0" y="10.4">NZ AP033205.1</text>
<text transform="translate(1442.0 1042.0) rotate(22.262)" x="711.0" y="10.4">NZ CP012496.1 R1</text>
<text transform="translate(1442.0 1042.0) rotate(24.337)" x="711.0" y="10.4">NZ CP010052.1 R1</text>
<text transform="translate(1442.0 1042.0) rotate(26.412)" x="711.0" y="10.4">NZ CP010314.1 R1</text>
<text transform="translate(1442.0 1042.0) rotate(28.487)" x="711.0" y="10.4">NZ CP014166.1 R1</text>
<text transform="translate(1442.0 1042.0) rotate(30.562)" x="711.0" y="10.4">NZ CP045672.1 R1</text>
<text transform="translate(1442.0 1042.0) rotate(32.637)" x="711.0" y="10.4">NZ CP017313.1 R1</text>
<text transform="translate(1442.0 1042.0) rotate(34.712)" x="711.0" y="10.4">NZ CP009748.1 R3</text>
<text transform="translate(1442.0 1042.0) rotate(36.787)" x="711.0" y="10.4">NZ CP035390.1 R2</text>
<text transform="translate(1442.0 1042.0) rotate(38.862)" x="711.0" y="10.4">NZ CP016767.1</text>
<text transform="translate(1442.0 1042.0) rotate(40.937)" x="711.0" y="10.4">NZ CP045825.1 R1</text>
<text transform="translate(1442.0 1042.0) rotate(43.012)" x="711.0" y="10.4">NZ CP064818.1</text>
<text transform="translate(1442.0 1042.0) rotate(45.087)" x="711.0" y="10.4">NZ CP035391.1</text>
<text transform="translate(1442.0 1042.0) rotate(47.162)" x="711.0" y="10.4">NZ CP045820.1</text>
<text transform="translate(1442.0 1042.0) rotate(49.237)" x="711.0" y="10.4">NZ CP032855.1 R1</text>
<text transform="translate(1442.0 1042.0) rotate(51.312)" x="711.0" y="10.4">NZ CP054584.1 R1</text>
<text transform="translate(1442.0 1042.0) rotate(53.387)" x="711.0" y="10.4">NZ CP009748.1 R2</text>
<text transform="translate(1442.0 1042.0) rotate(55.462)" x="711.0" y="10.4">NZ CP035406.1 R2</text>
<text transform="translate(1442.0 1042.0) rotate(57.537)" x="711.0" y="10.4">NZ CP045425.1 R2</text>
<text transform="translate(1442.0 1042.0) rotate(59.612)" x="711.0" y="10.4">NZ CP051306.1</text>
<text transform="translate(1442.0 1042.0) rotate(61.687)" x="711.0" y="10.4">NZ CP035226.1 R2</text>
<text transform="translate(1442.0 1042.0) rotate(63.762)" x="711.0" y="10.4">NZ CP028213.1 R1</text>
<text transform="translate(1442.0 1042.0) rotate(65.837)" x="711.0" y="10.4">NZ CP054584.1 R2</text>
<text transform="translate(1442.0 1042.0) rotate(67.912)" x="711.0" y="10.4">NZ CP023409.1</text>
<text transform="translate(1442.0 1042.0) rotate(69.987)" x="711.0" y="10.4">NZ CP028202.1</text>
<text transform="translate(1442.0 1042.0) rotate(72.062)" x="711.0" y="10.4">NZ CP045824.1</text>
<text transform="translate(1442.0 1042.0) rotate(74.137)" x="711.0" y="10.4">NZ CP026662.1</text>
<text transform="translate(1442.0 1042.0) rotate(76.212)" x="711.0" y="10.4">NZ CP032315.1</text>
<text transform="translate(1442.0 1042.0) rotate(78.287)" x="711.0" y="10.4">NZ CP023755.1 R2</text>
<text transform="translate(1442.0 1042.0) rotate(80.362)" x="711.0" y="10.4">NZ CP064819.1</text>
<text transform="translate(1442.0 1042.0) rotate(82.438)" x="711.0" y="10.4">NZ CP028212.1 R1</text>
<text transform="translate(1442.0 1042.0) rotate(84.512)" x="711.0" y="10.4">NZ CP046860.1 R2</text>
<text transform="translate(1442.0 1042.0) rotate(86.587)" x="711.0" y="10.4">NC 020507.1 R3</text>
<text transform="translate(1442.0 1042.0) rotate(88.662)" x="711.0" y="10.4">NZ CP045821.1 R2</text>
<text transform="translate(1442.0 1042.0) rotate(270.737)" x="-711.0" y="10.4" text-anchor="end">NC 018520.1 R2</text>
<text transform="translate(1442.0 1042.0) rotate(272.812)" x="-711.0" y="10.4" text-anchor="end">NZ CP045672.1 R2</text>
<text transform="translate(1442.0 1042.0) rotate(274.887)" x="-711.0" y="10.4" text-anchor="end">NZ CP020102.1 R2</text>
<text transform="translate(1442.0 1042.0) rotate(276.962)" x="-711.0" y="10.4" text-anchor="end">NZ CP045922.1 R2</text>
<text transform="translate(1442.0 1042.0) rotate(279.037)" x="-711.0" y="10.4" text-anchor="end">NZ CP010052.1 R2</text>
<text transform="translate(1442.0 1042.0) rotate(281.112)" x="-711.0" y="10.4" text-anchor="end">NZ CP065789.1 R2</text>
<text transform="translate(1442.0 1042.0) rotate(283.188)" x="-711.0" y="10.4" text-anchor="end">NZ CP010314.1 R2</text>
<text transform="translate(1442.0 1042.0) rotate(285.262)" x="-711.0" y="10.4" text-anchor="end">NZ AP019714.1 R2</text>
<text transform="translate(1442.0 1042.0) rotate(287.337)" x="-711.0" y="10.4" text-anchor="end">NC 020507.1 R2</text>
<text transform="translate(1442.0 1042.0) rotate(289.412)" x="-711.0" y="10.4" text-anchor="end">NZ CP032853.1</text>
<text transform="translate(1442.0 1042.0) rotate(291.487)" x="-711.0" y="10.4" text-anchor="end">NZ CP032855.1 R5</text>
<text transform="translate(1442.0 1042.0) rotate(293.562)" x="-711.0" y="10.4" text-anchor="end">NZ CP032855.1 R4</text>
<text transform="translate(1442.0 1042.0) rotate(295.637)" x="-711.0" y="10.4" text-anchor="end">NZ CP035161.1</text>
<text transform="translate(1442.0 1042.0) rotate(297.712)" x="-711.0" y="10.4" text-anchor="end">NZ CP021123.1 R2</text>
<text transform="translate(1442.0 1042.0) rotate(299.787)" x="-711.0" y="10.4" text-anchor="end">NC 020244.1</text>
<text transform="translate(1442.0 1042.0) rotate(301.862)" x="-711.0" y="10.4" text-anchor="end">NZ CP035403.1 R1</text>
<text transform="translate(1442.0 1042.0) rotate(303.937)" x="-711.0" y="10.4" text-anchor="end">NC 014976.1</text>
<text transform="translate(1442.0 1042.0) rotate(306.012)" x="-711.0" y="10.4" text-anchor="end">NZ CP035163.1</text>
<text transform="translate(1442.0 1042.0) rotate(308.087)" x="-711.0" y="10.4" text-anchor="end">NZ CP022287.1</text>
<text transform="translate(1442.0 1042.0) rotate(310.162)" x="-711.0" y="10.4" text-anchor="end">NZ CP050319.1</text>
<text transform="translate(1442.0 1042.0) rotate(312.237)" x="-711.0" y="10.4" text-anchor="end">NZ CP035406.1 R3</text>
<text transform="translate(1442.0 1042.0) rotate(314.312)" x="-711.0" y="10.4" text-anchor="end">NZ CP031693.1 R3</text>
<text transform="translate(1442.0 1042.0) rotate(316.387)" x="-711.0" y="10.4" text-anchor="end">NZ CP039935.1 R2</text>
<text transform="translate(1442.0 1042.0) rotate(318.462)" x="-711.0" y="10.4" text-anchor="end">NZ CP032855.1 R2</text>
<text transform="translate(1442.0 1042.0) rotate(320.537)" x="-711.0" y="10.4" text-anchor="end">NZ CP045816.1 R1</text>
<text transform="translate(1442.0 1042.0) rotate(322.612)" x="-711.0" y="10.4" text-anchor="end">NZ CP021921.1 R1</text>
<text transform="translate(1442.0 1042.0) rotate(324.687)" x="-711.0" y="10.4" text-anchor="end">NZ CP029461.1 R2</text>
<text transform="translate(1442.0 1042.0) rotate(326.762)" x="-711.0" y="10.4" text-anchor="end">NZ CP049924.1</text>
<text transform="translate(1442.0 1042.0) rotate(328.837)" x="-711.0" y="10.4" text-anchor="end">NZ CP025941.1 R1</text>
<text transform="translate(1442.0 1042.0) rotate(330.912)" x="-711.0" y="10.4" text-anchor="end">NZ CP021892.1</text>
<text transform="translate(1442.0 1042.0) rotate(332.987)" x="-711.0" y="10.4" text-anchor="end">NZ CP035390.1 R1</text>
<text transform="translate(1442.0 1042.0) rotate(335.062)" x="-711.0" y="10.4" text-anchor="end">NZ CP028212.1 R3</text>
<text transform="translate(1442.0 1042.0) rotate(337.137)" x="-711.0" y="10.4" text-anchor="end">NZ CP029465.1</text>
<text transform="translate(1442.0 1042.0) rotate(339.212)" x="-711.0" y="10.4" text-anchor="end">NZ CP045816.1 R2</text>
<text transform="translate(1442.0 1042.0) rotate(341.287)" x="-711.0" y="10.4" text-anchor="end">NZ CP046591.1</text>
<text transform="translate(1442.0 1042.0) rotate(343.362)" x="-711.0" y="10.4" text-anchor="end">NZ CP032855.1 R3</text>
<text transform="translate(1442.0 1042.0) rotate(345.437)" x="-711.0" y="10.4" text-anchor="end">NZ CP035395.1 R2</text>
<text transform="translate(1442.0 1042.0) rotate(347.512)" x="-711.0" y="10.4" text-anchor="end">NZ CP032852.1</text>
<text transform="translate(1442.0 1042.0) rotate(349.587)" x="-711.0" y="10.4" text-anchor="end">NZ CP021507.1</text>
<text transform="translate(1442.0 1042.0) rotate(351.662)" x="-711.0" y="10.4" text-anchor="end">NZ CP032872.1</text>
<text transform="translate(1442.0 1042.0) rotate(353.737)" x="-711.0" y="10.4" text-anchor="end">NZ CP035165.1</text>
<text transform="translate(1442.0 1042.0) rotate(355.812)" x="-711.0" y="10.4" text-anchor="end">NZ CP032857.1</text>
<text transform="translate(1442.0 1042.0) rotate(357.887)" x="-711.0" y="10.4" text-anchor="end">NZ CP022891.1</text>
<text transform="translate(1442.0 1042.0) rotate(359.962)" x="-711.0" y="10.4" text-anchor="end">NZ CP015222.1 R2</text>
<text transform="translate(1442.0 1042.0) rotate(2.037)" x="-711.0" y="10.4" text-anchor="end">NZ CP035402.1</text>
<text transform="translate(1442.0 1042.0) rotate(4.112)" x="-711.0" y="10.4" text-anchor="end">NZ CP020023.1</text>
<text transform="translate(1442.0 1042.0) rotate(6.187)" x="-711.0" y="10.4" text-anchor="end">NZ CP032863.1</text>
<text transform="translate(1442.0 1042.0) rotate(8.262)" x="-711.0" y="10.4" text-anchor="end">NZ CP063151.1</text>
<text transform="translate(1442.0 1042.0) rotate(10.337)" x="-711.0" y="10.4" text-anchor="end">NZ CP032865.1 R1</text>
<text transform="translate(1442.0 1042.0) rotate(12.412)" x="-711.0" y="10.4" text-anchor="end">NZ CP032861.1</text>
<text transform="translate(1442.0 1042.0) rotate(14.487)" x="-711.0" y="10.4" text-anchor="end">NZ CP017763.1 R1</text>
<text transform="translate(1442.0 1042.0) rotate(16.562)" x="-711.0" y="10.4" text-anchor="end">NZ CP014471.1</text>
<text transform="translate(1442.0 1042.0) rotate(18.637)" x="-711.0" y="10.4" text-anchor="end">NZ CP032867.1</text>
<text transform="translate(1442.0 1042.0) rotate(20.712)" x="-711.0" y="10.4" text-anchor="end">NZ CP020722.1</text>
<text transform="translate(1442.0 1042.0) rotate(22.787)" x="-711.0" y="10.4" text-anchor="end">NZ CP018184.1 R2</text>
<text transform="translate(1442.0 1042.0) rotate(24.862)" x="-711.0" y="10.4" text-anchor="end">NC 017196.2</text>
</g>
<g id="legend" font-family="Liberation Sans, Arial, sans-serif">
<path d="M32 155H371V1828H32" fill="none" stroke="#f0f0f0" stroke-width="2"/>
<text x="34" y="202" font-size="43.6" font-weight="bold" fill="#1a1a1a">Colored ranges</text>
<rect x="33" y="226" width="329" height="3.5" fill="#a5a5a5"/>
<rect x="34.5" y="250.1" width="57.5" height="57.5" fill="#43b817" stroke="#000" stroke-opacity="0.38" stroke-width="3"/>
<text x="120" y="290.6" font-size="44" fill="#3a3a3a">Cluster A</text>
<rect x="34.5" y="338.2" width="57.5" height="57.5" fill="#f3f5f4" stroke="#000" stroke-opacity="0.38" stroke-width="3"/>
<text x="120" y="378.7" font-size="44" fill="#3a3a3a">Cluster B</text>
<rect x="34.5" y="426.3" width="57.5" height="57.5" fill="#341b79" stroke="#000" stroke-opacity="0.38" stroke-width="3"/>
<text x="120" y="466.8" font-size="44" fill="#3a3a3a">Cluster C</text>
<rect x="34.5" y="514.3" width="57.5" height="57.5" fill="#b4a7d6" stroke="#000" stroke-opacity="0.38" stroke-width="3"/>
<text x="120" y="554.8" font-size="44" fill="#3a3a3a">Cluster D</text>
<rect x="34.5" y="602.4" width="57.5" height="57.5" fill="#999999" stroke="#000" stroke-opacity="0.38" stroke-width="3"/>
<text x="120" y="642.9" font-size="44" fill="#3a3a3a">Cluster E</text>
<rect x="34.5" y="690.5" width="57.5" height="57.5" fill="#7a1c4c" stroke="#000" stroke-opacity="0.38" stroke-width="3"/>
<text x="120" y="731.0" font-size="44" fill="#3a3a3a">Cluster F</text>
<rect x="34.5" y="778.6" width="57.5" height="57.5" fill="#ead1dc" stroke="#000" stroke-opacity="0.38" stroke-width="3"/>
<text x="120" y="819.1" font-size="44" fill="#3a3a3a">Cluster G</text>
<rect x="34.5" y="866.7" width="57.5" height="57.5" fill="#134f5c" stroke="#000" stroke-opacity="0.38" stroke-width="3"/>
<text x="120" y="907.2" font-size="44" fill="#3a3a3a">Cluster H</text>
<rect x="34.5" y="954.7" width="57.5" height="57.5" fill="#a2c4c9" stroke="#000" stroke-opacity="0.38" stroke-width="3"/>
<text x="120" y="995.2" font-size="44" fill="#3a3a3a">Cluster I</text>
<rect x="34.5" y="1042.8" width="57.5" height="57.5" fill="#bf9000" stroke="#000" stroke-opacity="0.38" stroke-width="3"/>
<text x="120" y="1083.3" font-size="44" fill="#3a3a3a">Cluster J</text>
<rect x="34.5" y="1130.9" width="57.5" height="57.5" fill="#ffe599" stroke="#000" stroke-opacity="0.38" stroke-width="3"/>
<text x="120" y="1171.4" font-size="44" fill="#3a3a3a">Cluster K</text>
<rect x="34.5" y="1219.0" width="57.5" height="57.5" fill="#1c8ce6" stroke="#000" stroke-opacity="0.38" stroke-width="3"/>
<text x="120" y="1259.5" font-size="44" fill="#3a3a3a">Cluster L</text>
<rect x="34.5" y="1307.1" width="57.5" height="57.5" fill="#eef4d0" stroke="#000" stroke-opacity="0.38" stroke-width="3"/>
<text x="120" y="1347.6" font-size="44" fill="#3a3a3a">Cluster M</text>
<rect x="34.5" y="1395.1" width="57.5" height="57.5" fill="#d0e0e3" stroke="#000" stroke-opacity="0.38" stroke-width="3"/>
<text x="120" y="1435.6" font-size="44" fill="#3a3a3a">Cluster N</text>
<rect x="34.5" y="1483.2" width="57.5" height="57.5" fill="#ff0000" stroke="#000" stroke-opacity="0.38" stroke-width="3"/>
<text x="120" y="1523.7" font-size="44" fill="#3a3a3a">Singleton 1</text>
<rect x="34.5" y="1571.3" width="57.5" height="57.5" fill="#ff1a1a" stroke="#000" stroke-opacity="0.38" stroke-width="3"/>
<text x="120" y="1611.8" font-size="44" fill="#3a3a3a">Singleton 2</text>
<rect x="34.5" y="1659.4" width="57.5" height="57.5" fill="#e23a3a" stroke="#000" stroke-opacity="0.38" stroke-width="3"/>
<text x="120" y="1699.9" font-size="44" fill="#3a3a3a">Singleton 4</text>
<rect x="34.5" y="1747.5" width="57.5" height="57.5" fill="#e62525" stroke="#000" stroke-opacity="0.38" stroke-width="3"/>
<text x="120" y="1788.0" font-size="44" fill="#3a3a3a">Singleton 4</text>
</g>
<g id="scale" font-family="Liberation Sans, Arial, sans-serif">
<text x="38" y="1928" font-size="31.6" font-weight="bold" fill="#666">Tree scale: 1</text>
<path d="M256 1918H814.5M256 1908.5V1928M814.5 1908.5V1928M535 1918V1924.5" stroke="#777" stroke-width="3" fill="none"/>
</g>
</svg>
</body></html>
